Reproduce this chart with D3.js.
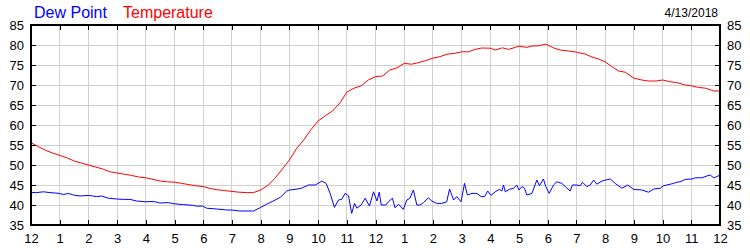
<!DOCTYPE html>
<html>
<head>
<meta charset="utf-8">
<script src="https://cdn.jsdelivr.net/npm/d3@7"></script>
<style>
  body { margin: 0; background: white; }
  text { font-family: Arial, "Liberation Sans", sans-serif; }
</style>
</head>
<body>
<script>
// hour of day (0..24) and readings in °F
const tempHours = [0,0.25,0.5,0.75,1,1.25,1.5,1.75,2,2.25,2.5,2.75,3,3.25,3.5,3.75,4,4.25,4.5,4.75,5,5.25,5.5,5.75,6,6.25,6.5,6.75,7,7.25,7.5,7.75,8,
  8.27,8.5,8.73,9,9.26,9.5,9.76,10,10.24,10.5,10.77,11,11.25,11.5,11.75,12,12.25,12.5,12.75,13,13.26,13.5,13.75,14,14.25,14.5,14.75,15,15.24,15.47,15.7,16,
  16.17,16.42,16.63,16.87,17,17.27,17.45,17.68,17.91,18,18.2,18.43,18.72,19,19.3,19.54,19.77,20,20.23,20.47,20.7,21,21.28,21.5,21.77,22,22.27,22.5,22.79,23,23.25,23.5,23.78,24];
const tempValues = [55.6,54.6,53.7,53.0,52.4,51.8,51.0,50.5,50.0,49.5,49.0,48.3,48.0,47.7,47.4,47.0,46.8,46.4,46.0,45.8,45.7,45.4,45.1,44.8,44.6,44.1,43.8,43.6,43.4,43.2,43.1,43.1,43.75,
  45.0,46.7,48.75,51.25,54.2,56.25,58.9,61.0,62.25,63.5,65.6,68.2,69.2,69.8,71.25,72.1,72.25,73.75,74.3,75.4,75.2,75.6,76.1,76.7,77.1,77.7,77.9,78.3,78.3,78.9,79.25,79.2,
  78.75,79.3,78.9,79.4,79.7,79.4,79.75,79.8,80.2,80.0,79.3,78.75,78.5,78.2,77.75,77.0,76.5,75.8,74.6,73.5,73.2,71.7,71.25,71.0,71.0,71.25,70.8,70.6,70.0,69.8,69.4,69.2,68.5,68.5];

const dewHours = [0,0.2,0.43,0.66,0.99,1.13,1.3,1.475,1.71,2.0,2.29,2.46,2.69,2.985,3.22,3.45,3.68,4.0,4.26,4.49,4.78,4.99,5.31,5.66,5.77,5.97,6.12,6.47,6.82,6.98,7.28,7.75,
  8,8.21,8.44,8.68,8.91,9,9.2,9.43,9.66,9.9,10.0,10.13,10.28,10.42,10.57,10.71,10.82,10.94,11.06,11.17,11.27,11.35,11.5,11.64,11.79,11.93,12.05,12.13,12.2,12.36,12.45,12.59,12.68,12.8,12.97,
  13.09,13.2,13.32,13.44,13.55,13.67,13.84,13.96,14.13,14.31,14.48,14.58,14.72,14.83,14.98,15.1,15.2,15.36,15.53,15.68,15.8,15.91,16.02,
  16.17,16.31,16.4,16.46,16.52,16.66,16.81,16.92,17.0,17.1,17.19,17.27,17.45,17.62,17.71,17.85,17.93,18.05,18.2,18.32,18.49,18.67,18.78,18.86,19.01,19.13,19.21,19.36,19.48,19.6,19.71,19.89,
  20.02,20.18,20.35,20.58,20.79,20.99,21.28,21.51,21.69,21.92,22.03,22.27,22.38,22.5,22.61,22.79,23.02,23.14,23.37,23.54,23.66,23.78,23.89,24.0];
const dewValues = [43.1,43.1,43.3,43.1,42.9,42.6,42.9,42.5,42.25,42.4,42.1,42.25,41.7,41.5,41.4,41.4,41.0,40.8,40.9,40.5,40.6,40.3,40.1,39.9,39.7,39.75,39.2,39.0,38.75,38.75,38.5,38.5,
  39.4,40.2,41.0,41.9,43.5,43.75,43.9,44.2,45.0,45.0,45.4,46.0,45.4,42.9,39.4,41.25,41.4,42.9,42.3,37.9,40.4,39.2,40.0,41.7,39.75,43.3,41.0,43.2,40.0,40.0,40.8,41.7,39.3,40.2,38.9,
  41.25,41.7,43.75,40.0,40.0,40.6,41.8,41.0,40.4,40.4,40.8,44.0,41.25,42.1,40.8,45.4,42.5,42.9,42.9,42.1,42.1,43.5,42.4,
  43.3,43.9,43.5,45.0,43.3,43.9,44.2,45.0,43.75,44.6,44.2,42.5,42.9,46.25,44.8,46.5,44.6,42.9,45.0,45.8,45.4,44.2,43.5,45.0,45.0,44.8,45.7,44.6,45.0,46.25,45.2,46.0,
  46.25,46.5,45.4,44.2,45.0,43.9,43.75,43.2,44.0,44.2,44.8,45.2,45.4,45.7,45.8,46.4,46.5,46.8,46.8,47.25,47.5,46.8,47.1,47.5];

const hourTicks = [0,1,2,3,4,5,6,7,8,9,10,11,12,13,14,15,16,17,18,19,20,21,22,23,24];
const hourLabels = ["12","1","2","3","4","5","6","7","8","9","10","11","12","1","2","3","4","5","6","7","8","9","10","11","12"];
const yTicks = [35,40,45,50,55,60,65,70,75,80,85];
const dateLabel = "4/13/2018";

const W = 750, H = 250;
const plotL = 31, plotR = 720, plotT = 25, plotB = 225;

const svg = d3.select("body").append("svg")
    .attr("width", W)
    .attr("height", H)
    .attr("style", "background:white;");

const x = d3.scaleLinear().domain([0, 24]).range([plotL, plotR]);
const y = d3.scaleLinear().domain([35, 85]).range([plotB, plotT]);

// grid
svg.append("g").selectAll("line").data(hourTicks).join("line")
    .attr("x1", d => x(d)).attr("x2", d => x(d))
    .attr("y1", plotT).attr("y2", plotB)
    .attr("stroke", "#d0d0d0").attr("shape-rendering", "crispEdges");
svg.append("g").selectAll("line").data(yTicks).join("line")
    .attr("x1", plotL).attr("x2", plotR)
    .attr("y1", d => y(d)).attr("y2", d => y(d))
    .attr("stroke", "#d0d0d0").attr("shape-rendering", "crispEdges");

// axes, ticks pointing inward
const fmtHour = (d, i) => hourLabels[i];
const xb = svg.append("g").attr("transform", `translate(0,${plotB})`)
    .call(d3.axisBottom(x).tickValues(hourTicks).tickFormat(fmtHour).tickSizeInner(-5).tickSizeOuter(0).tickPadding(9));
const xt = svg.append("g").attr("transform", `translate(0,${plotT})`)
    .call(d3.axisTop(x).tickValues(hourTicks).tickFormat("").tickSizeInner(-5).tickSizeOuter(0));
const yl = svg.append("g").attr("transform", `translate(${plotL},0)`)
    .call(d3.axisLeft(y).tickValues(yTicks).tickSizeInner(-5).tickSizeOuter(0).tickPadding(7));
const yr = svg.append("g").attr("transform", `translate(${plotR},0)`)
    .call(d3.axisRight(y).tickValues(yTicks).tickSizeInner(-5).tickSizeOuter(0).tickPadding(7));

[xb, xt, yl, yr].forEach(g => {
    g.select(".domain").remove();
    g.selectAll(".tick line").attr("stroke", "#000").attr("shape-rendering", "crispEdges");
    g.selectAll(".tick text").attr("fill", "#000").attr("font-size", 13)
        .attr("font-family", "Arial, 'Liberation Sans', sans-serif");
});

// lines
const line = d3.line().x(d => x(d[0])).y(d => y(d[1]));
svg.append("path")
    .attr("d", line(tempHours.map((h, i) => [h, tempValues[i]])))
    .attr("fill", "none").attr("stroke", "#ff0000").attr("stroke-width", 1);
svg.append("path")
    .attr("d", line(dewHours.map((h, i) => [h, dewValues[i]])))
    .attr("fill", "none").attr("stroke", "#0000ff").attr("stroke-width", 1);

// frame
svg.append("rect")
    .attr("x", plotL).attr("y", plotT)
    .attr("width", plotR - plotL).attr("height", plotB - plotT)
    .attr("fill", "none").attr("stroke", "#000").attr("stroke-width", 2);

// legend and date
svg.append("text").attr("x", 34).attr("y", 18).attr("font-size", 16)
    .attr("fill", "#0000ff").text("Dew Point");
svg.append("text").attr("x", 123).attr("y", 18).attr("font-size", 16)
    .attr("fill", "#ff0000").text("Temperature");
svg.append("text").attr("x", 718).attr("y", 17).attr("font-size", 12)
    .attr("text-anchor", "end").attr("fill", "#000").text(dateLabel);
</script>
</body>
</html>
